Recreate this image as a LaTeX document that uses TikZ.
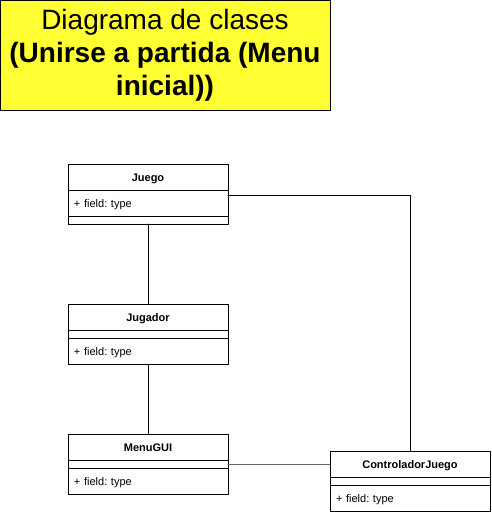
\documentclass[tikz,border=0pt]{standalone}
\usepackage{fontspec}
\setmainfont{Liberation Sans}
\usetikzlibrary{positioning}
\definecolor{ffffqq}{rgb}{1,1,0.2}
\definecolor{sqsqsq}{rgb}{0.4,0.4,0.4}
\tikzset{
  titulo/.style={draw=black,fill=ffffqq,line width=1pt,minimum width=330pt,minimum height=110pt,align=center,inner sep=0pt,font=\fontsize{28}{33}\selectfont},
  clase/.style={draw=black,fill=white,line width=1pt,outer sep=0pt,minimum width=160pt,minimum height=26pt,inner sep=0pt,text height=8pt,text depth=0pt,font=\bfseries\fontsize{11}{13}\selectfont},
  campo/.style={draw=black,fill=white,line width=1pt,outer sep=0pt,minimum height=26pt,inner xsep=6pt,inner ysep=0pt,text height=8pt,text depth=0pt,text width=148pt,align=left,anchor=north,font=\fontsize{11}{13}\selectfont},
  vacio/.style={draw=black,fill=white,line width=1pt,outer sep=0pt,minimum width=160pt,minimum height=8pt,inner sep=0pt,anchor=north}
}
\frenchspacing
\begin{document}
\begin{tikzpicture}[line cap=round,line join=round,x=1pt,y=1pt]
\useasboundingbox (0,0) rectangle (491,-515);
\node[titulo] (titulo) at (165,-55) {Diagrama de clases\\\textbf{(Unirse a partida (Menu}\\\textbf{inicial))}};
% clases
\node[clase] (juego) at (148,-177) {Juego};
\node[campo,below=0pt of juego] (juegoF) {+ field: type};
\node[vacio,below=0pt of juegoF] (juegoM) {};
\node[clase] (jugador) at (148,-317) {Jugador};
\node[vacio,below=0pt of jugador] (jugadorM) {};
\node[campo,below=0pt of jugadorM] (jugadorF) {+ field: type};
\node[clase] (menu) at (148,-447) {MenuGUI};
\node[vacio,below=0pt of menu] (menuM) {};
\node[campo,below=0pt of menuM] (menuF) {+ field: type};
\node[clase] (ctrl) at (410,-464) {ControladorJuego};
\node[vacio,below=0pt of ctrl] (ctrlM) {};
\node[campo,below=0pt of ctrlM] (ctrlF) {+ field: type};
% relaciones
\draw[line width=1pt] (juegoM.south) -- (jugador.north);
\draw[line width=1pt] (jugadorF.south) -- (menu.north);
\draw[line width=1pt] ([yshift=-5pt]juegoF.north east) -| (ctrl.north);
\draw[line width=1pt,color=sqsqsq] (menuM.east) -- (ctrl.west);
\end{tikzpicture}
\end{document}
